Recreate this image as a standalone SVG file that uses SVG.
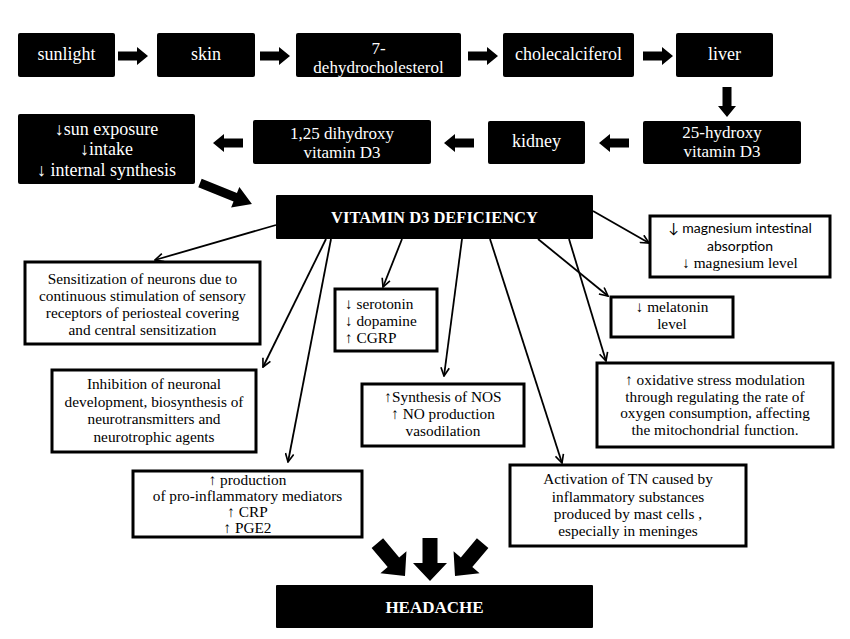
<svg xmlns="http://www.w3.org/2000/svg" xmlns:xlink="http://www.w3.org/1999/xlink" width="850" height="639" viewBox="0 0 850 639">
<style>
.blk{fill:#000}
.wb{fill:#fff;stroke:#000;stroke-width:3}
.wt{font-family:"Liberation Serif",serif;fill:#fff;font-size:18px;text-anchor:middle}
.w2{font-size:17px}
.hd{font-family:"Liberation Serif",serif;fill:#fff;font-weight:bold;text-anchor:middle}
.bt{font-family:"Liberation Serif",serif;fill:#000;font-size:15.3px;text-anchor:middle}
.st{text-anchor:start}
.sn{font-family:Lato,"Liberation Sans",sans-serif;fill:#000;font-size:14px;text-anchor:middle}
.ln{stroke:#000;stroke-width:1.8;fill:none;marker-end:url(#ah)}
.ba{fill:#000}
</style>
<defs>
<marker id="ah" viewBox="0 0 12 12" refX="11" refY="6" markerWidth="10" markerHeight="10" markerUnits="userSpaceOnUse" orient="auto">
<path d="M1,1 L11,6 L1,11" fill="none" stroke="#000" stroke-width="2"/>
</marker>
<path id="ra" d="M0,-4.5 H19 V-9 L30,0 L19,9 V4.5 H0 Z"/>
<path id="da" d="M-7.5,-43 H7.5 V-18 H17 L0,0 L-17,-18 H-7.5 Z"/>
</defs>
<rect width="850" height="639" fill="#fff"/>

<g id="n-sunlight"><rect class="blk" x="18" y="33" width="97" height="44" rx="2"/><text class="wt" x="66.5" y="60">sunlight</text></g>
<g id="n-skin"><rect class="blk" x="157" y="33" width="98" height="44" rx="2"/><text class="wt" x="206" y="60">skin</text></g>
<g id="n-dehydro"><rect class="blk" x="296" y="33" width="165" height="44" rx="2"/><text class="wt w2" x="378.5" y="54">7-</text><text class="wt w2" x="378.5" y="73">dehydrocholesterol</text></g>
<g id="n-chole"><rect class="blk" x="503" y="33" width="131" height="44" rx="2"/><text class="wt" x="568.5" y="60">cholecalciferol</text></g>
<g id="n-liver"><rect class="blk" x="676" y="33" width="97" height="44" rx="2"/><text class="wt" x="724.5" y="60">liver</text></g>

<g id="n-25oh"><rect class="blk" x="643" y="121" width="158" height="43" rx="2"/><text class="wt w2" x="722" y="138">25-hydroxy</text><text class="wt w2" x="722" y="157">vitamin D3</text></g>
<g id="n-kidney"><rect class="blk" x="488" y="121" width="97" height="43" rx="2"/><text class="wt" x="536.5" y="147">kidney</text></g>
<g id="n-125"><rect class="blk" x="253" y="120" width="178" height="44" rx="2"/><text class="wt w2" x="342" y="139">1,25 dihydroxy</text><text class="wt w2" x="342" y="158">vitamin D3</text></g>
<g id="n-causes"><rect class="blk" x="18" y="114" width="177" height="70" rx="2"/><text class="wt" x="106.5" y="135">↓sun exposure</text><text class="wt" x="106.5" y="155">↓intake</text><text class="wt" x="106.5" y="176">↓ internal synthesis</text></g>

<g id="n-deficiency"><rect class="blk" x="276" y="195" width="317" height="44" rx="1"/><text class="hd" x="434.5" y="223" font-size="16.5">VITAMIN D3 DEFICIENCY</text></g>

<g id="n-sensitization"><rect class="wb" x="25" y="262" width="235" height="82"/>
<text class="bt" x="142.5" y="284">Sensitization of neurons due to</text>
<text class="bt" x="142.5" y="301">continuous stimulation of sensory</text>
<text class="bt" x="142.5" y="318">receptors of periosteal covering</text>
<text class="bt" x="142.5" y="335">and central sensitization</text></g>

<g id="n-serotonin"><rect class="wb" x="335" y="289" width="102" height="62"/>
<text class="bt st" x="345" y="309">↓ serotonin</text>
<text class="bt st" x="345" y="326">↓ dopamine</text>
<text class="bt st" x="345" y="343">↑ CGRP</text></g>

<g id="n-magnesium"><rect class="wb" x="650" y="216" width="180" height="61"/>
<text class="sn" x="740" y="233">↓ magnesium intestinal</text>
<text class="sn" x="740" y="251">absorption</text>
<text class="bt" x="740" y="268">↓ magnesium level</text></g>

<g id="n-melatonin"><rect class="wb" x="611" y="297" width="122" height="40"/>
<text class="bt" x="672" y="312">↓ melatonin</text>
<text class="bt" x="672" y="329">level</text></g>

<g id="n-oxidative"><rect class="wb" x="597" y="363" width="236" height="84"/>
<text class="bt" x="715" y="385">↑ oxidative stress modulation</text>
<text class="bt" x="715" y="402">through regulating the rate of</text>
<text class="bt" x="715" y="418">oxygen consumption, affecting</text>
<text class="bt" x="715" y="435">the mitochondrial function.</text></g>

<g id="n-inhibition"><rect class="wb" x="52" y="370" width="204" height="82"/>
<text class="bt" x="154" y="389">Inhibition of neuronal</text>
<text class="bt" x="154" y="407">development, biosynthesis of</text>
<text class="bt" x="154" y="424">neurotransmitters and</text>
<text class="bt" x="154" y="442">neurotrophic agents</text></g>

<g id="n-nos"><rect class="wb" x="362" y="384" width="162" height="62"/>
<text class="bt" x="443" y="402">↑Synthesis of NOS</text>
<text class="bt" x="443" y="419">↑ NO production</text>
<text class="bt" x="443" y="436">vasodilation</text></g>

<g id="n-production"><rect class="wb" x="133" y="471" width="229" height="66"/>
<text class="bt" x="247.5" y="485">↑ production</text>
<text class="bt" x="247.5" y="501">of pro-inflammatory mediators</text>
<text class="bt" x="247.5" y="517">↑ CRP</text>
<text class="bt" x="247.5" y="533">↑ PGE2</text></g>

<g id="n-tn"><rect class="wb" x="510" y="465" width="236" height="81"/>
<text class="bt" x="628" y="484">Activation of TN caused by</text>
<text class="bt" x="628" y="502">inflammatory substances</text>
<text class="bt" x="628" y="519">produced by mast cells ,</text>
<text class="bt" x="628" y="536">especially in meninges</text></g>

<g id="n-headache"><rect class="blk" x="276" y="585" width="317" height="43" rx="1"/><text class="hd" x="434.5" y="613" font-size="17">HEADACHE</text></g>

<g id="connectors">
<use xlink:href="#ra" class="ba" transform="translate(118,56)"/>
<use xlink:href="#ra" class="ba" transform="translate(260,56)"/>
<use xlink:href="#ra" class="ba" transform="translate(468,56)"/>
<use xlink:href="#ra" class="ba" transform="translate(643,56)"/>
<use xlink:href="#ra" class="ba" transform="translate(727,87) rotate(90)"/>
<use xlink:href="#ra" class="ba" transform="translate(629,143) scale(-1,1)"/>
<use xlink:href="#ra" class="ba" transform="translate(474,143) scale(-1,1)"/>
<use xlink:href="#ra" class="ba" transform="translate(243,143) scale(-1,1)"/>
<path class="ba" d="M0,-4.5 H38 V-11 L56,0 L38,11 V4.5 H0 Z" transform="translate(200,183) rotate(22)"/>
<line class="ln" x1="276" y1="225" x2="155" y2="260"/>
<line class="ln" x1="326" y1="239" x2="263" y2="367"/>
<line class="ln" x1="331" y1="239" x2="288" y2="462"/>
<line class="ln" x1="402" y1="239" x2="383" y2="287"/>
<line class="ln" x1="462" y1="239" x2="444" y2="376"/>
<line class="ln" x1="490" y1="239" x2="562" y2="463"/>
<line class="ln" x1="538" y1="239" x2="608" y2="296"/>
<line class="ln" x1="569" y1="239" x2="606" y2="361"/>
<line class="ln" x1="593" y1="211" x2="649" y2="243"/>
<use xlink:href="#da" class="ba" transform="translate(405,576) rotate(-40)"/>
<use xlink:href="#da" class="ba" transform="translate(430,581)"/>
<use xlink:href="#da" class="ba" transform="translate(455,576) rotate(40)"/>
</g>
</svg>
